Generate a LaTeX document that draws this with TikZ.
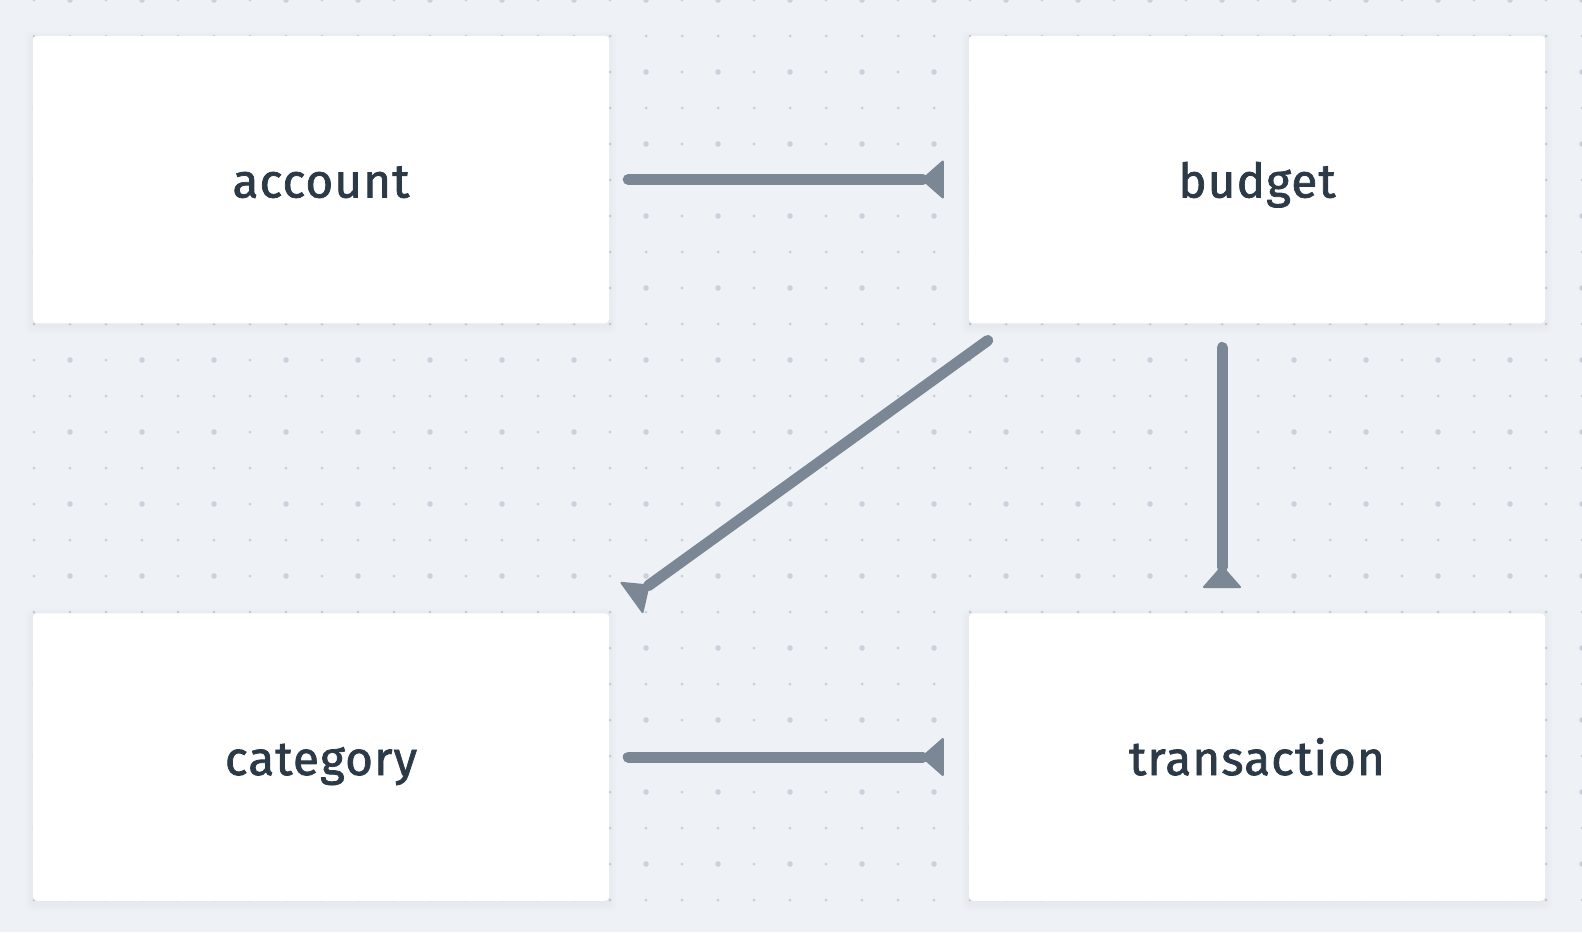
\documentclass[tikz,border=0pt]{standalone}
\usepackage{fontspec}
\setmainfont{Fira Sans}
\newfontfamily\labfont{Fira Sans}[FakeBold=1.6, LetterSpace=2.5]
\usetikzlibrary{arrows.meta}
\definecolor{bgc}{RGB}{238,241,245}
\definecolor{dotc}{RGB}{200,206,216}
\definecolor{dotl}{RGB}{203,209,220}
\definecolor{arrc}{RGB}{123,135,148}
\definecolor{txtc}{RGB}{44,58,71}
\pgfdeclarelayer{back}
\pgfsetlayers{back,main}
\tikzset{
  entity/.style={fill=white, draw=none, rounded corners=4pt, inner sep=0pt,
    minimum width=576pt, minimum height=287.5pt, text=txtc,
    font=\labfont\fontsize{47.5}{50}\selectfont, text height=36pt, text depth=0pt},
  rel/.style={draw=arrc, line width=11pt, line cap=round,
    -{Triangle[reversed, length=23pt, width=40pt, line width=2pt, round]}},
}
\begin{document}
\begin{tikzpicture}[x=1pt,y=-1pt]
\useasboundingbox (0,0) rectangle (1582,932);
\node[entity] (account) at (321,179.5) {account};
\node[entity] (budget) at (1257,179.5) {budget};
\node[entity] (category) at (321,757) {category};
\node[entity] (transaction) at (1257,757) {transaction};
\begin{pgfonlayer}{back}
\fill[bgc] (0,0) rectangle (1582,932);
\foreach \i in {0,...,43} \foreach \j in {0,...,25} {
  \fill[dotc] (34+36*\i, 36*\j) circle[radius=1.5pt];
}
\foreach \i in {1,3,...,43} \foreach \j in {0,2,...,24} {
  \fill[dotl] (34+36*\i, 36*\j) circle[radius=2.8pt];
}
\foreach \n in {account,budget,category,transaction} {
  \foreach \k in {1,...,8} {
    \fill[black, opacity=0.005, rounded corners=6pt]
      ([shift={(-\k pt,\k pt-3pt)}]\n.north west) rectangle ([shift={(\k pt,-\k pt-3pt)}]\n.south east);
  }
}
\end{pgfonlayer}
\coordinate (bs) at ([shift={(19pt,-17pt)}]budget.south west);
\coordinate (ce) at ([shift={(22pt,15pt)}]category.north east);
\draw[rel, shorten <=19pt, shorten >=25pt] (account.east) -- (budget.west);
\draw[rel, shorten <=19pt, shorten >=25pt] (category.east) -- (transaction.west);
\draw[rel, shorten <=24pt, shorten >=25pt] ([xshift=-35pt]budget.south) -- ([xshift=-35pt]transaction.north);
\draw[rel] (bs) -- (ce);
\end{tikzpicture}
\end{document}
